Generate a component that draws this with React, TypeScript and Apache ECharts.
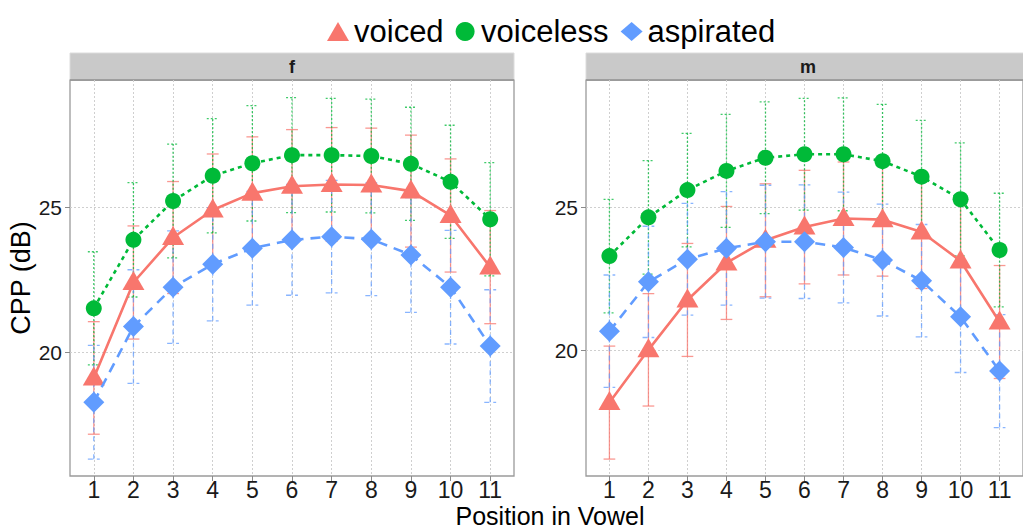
import React, { useEffect, useRef } from "react";
import * as echarts from "echarts";

// ---------- data ----------
const positions = [1, 2, 3, 4, 5, 6, 7, 8, 9, 10, 11];
const yTicks = [20, 25];
const panels = ["f", "m"];
const groups = ["voiced", "voiceless", "aspirated"];

// panel f
const fVoiced = [19.13, 22.42, 23.97, 24.92, 25.5, 25.74, 25.8, 25.78, 25.57, 24.73, 22.95];
const fVoicedSd = [1.94, 1.95, 1.93, 1.93, 1.94, 1.95, 1.96, 1.96, 1.93, 1.95, 1.95];
const fVoiceless = [21.53, 23.89, 25.23, 26.1, 26.53, 26.81, 26.81, 26.78, 26.51, 25.89, 24.6];
const fVoicelessSd = [1.95, 1.97, 1.96, 1.97, 1.99, 1.98, 1.96, 1.96, 1.95, 1.95, 1.95];
const fAspirated = [18.29, 20.9, 22.26, 23.05, 23.6, 23.89, 24.0, 23.91, 23.37, 22.26, 20.23];
const fAspiratedSd = [1.96, 1.96, 1.94, 1.95, 1.96, 1.91, 1.94, 1.94, 1.98, 1.96, 1.94];

// panel m
const mVoiced = [18.18, 20.02, 21.76, 23.05, 23.84, 24.3, 24.6, 24.56, 24.13, 23.12, 20.99];
const mVoicedSd = [1.97, 1.96, 1.97, 1.97, 1.97, 1.98, 1.97, 1.97, 1.97, 1.97, 1.97];
const mVoiceless = [23.29, 24.64, 25.59, 26.26, 26.72, 26.84, 26.84, 26.6, 26.06, 25.27, 23.5];
const mVoicelessSd = [1.98, 1.98, 1.98, 1.97, 1.95, 1.95, 1.97, 1.98, 1.96, 1.97, 1.98];
const mAspirated = [20.67, 22.39, 23.18, 23.56, 23.79, 23.79, 23.59, 23.15, 22.43, 21.17, 19.28];
const mAspiratedSd = [1.96, 1.94, 1.95, 1.98, 1.97, 1.98, 1.93, 1.95, 1.96, 1.94, 1.97];

const panelData = [
  { means: [fVoiced, fVoiceless, fAspirated], sds: [fVoicedSd, fVoicelessSd, fAspiratedSd] },
  { means: [mVoiced, mVoiceless, mAspirated], sds: [mVoicedSd, mVoicelessSd, mAspiratedSd] },
];

// ---------- styles ----------
const FONT = "Liberation Sans, Arial, Helvetica, sans-serif";
const colors = ["#F8766D", "#00BA38", "#619CFF"];
const symbols = ["triangle", "circle", "diamond"];
const symbolSizes: any[] = [[22, 19], 16, [21, 21]];
const symbolOffsets: any[] = [[0, -2], [0, 0], [0, 0]];
const lineDashes: any[] = ["solid", [4, 4], [10, 7]];
const errDashes: any[] = ["solid", [2, 2], [5, 4]];

const gridsPx = [
  { left: 70, top: 80, width: 444, height: 396 },
  { left: 586, top: 80, width: 444, height: 396 },
];
const yRanges = [
  [15.75, 29.4],
  [15.62, 29.43],
];

export default function App() {
  const ref = useRef<HTMLDivElement>(null);

  useEffect(() => {
    if (!ref.current) return;
    const chart = echarts.init(ref.current, null, { renderer: "svg" });

    const grids = gridsPx.map((g) => ({
      ...g,
      show: true,
      borderColor: "#9a9a9a",
      borderWidth: 1.3,
      backgroundColor: "#ffffff",
      containLabel: false,
    }));

    const xAxes = gridsPx.map((_, i) => ({
      type: "value",
      gridIndex: i,
      min: 0.4,
      max: 11.6,
      axisLine: { show: false },
      axisTick: {
        show: true,
        length: 5,
        customValues: positions,
        lineStyle: { color: "#8a8a8a", width: 1 },
      },
      axisLabel: {
        customValues: positions,
        fontSize: 23,
        lineHeight: 20,
        color: "#1a1a1a",
        fontFamily: FONT,
        margin: 4,
        formatter: (v: number) => String(v),
      },
      splitLine: {
        show: true,
        lineStyle: { color: "#cfcfcf", type: [2, 2], width: 1 },
      },
    }));

    const yAxes = gridsPx.map((_, i) => ({
      type: "value",
      gridIndex: i,
      min: yRanges[i][0],
      max: yRanges[i][1],
      name: i === 0 ? "CPP (dB)" : "",
      nameLocation: "middle",
      nameGap: 33,
      nameTextStyle: { fontSize: 27, color: "#000", fontFamily: FONT },
      axisLine: { show: false },
      axisTick: {
        show: true,
        length: 5,
        customValues: yTicks,
        lineStyle: { color: "#8a8a8a", width: 1 },
      },
      axisLabel: {
        customValues: yTicks,
        fontSize: 21,
        color: "#1a1a1a",
        fontFamily: FONT,
        margin: 8,
      },
      splitLine: {
        show: true,
        lineStyle: { color: "#cfcfcf", type: [2, 2], width: 1 },
      },
    }));

    const series: any[] = [];
    panelData.forEach((pd, p) => {
      groups.forEach((g, k) => {
        const data = positions.map((x, j) => [x, pd.means[k][j] - pd.sds[k][j], pd.means[k][j] + pd.sds[k][j]]);
        series.push({
          type: "custom",
          name: g + "-err-" + p,
          xAxisIndex: p,
          yAxisIndex: p,
          z: 2,
          silent: true,
          encode: { x: 0, y: [1, 2] },
          data,
          renderItem: (params: any, api: any) => {
            const x = api.value(0);
            const lo = api.coord([x, api.value(1)]);
            const hi = api.coord([x, api.value(2)]);
            const hw = api.size([0.3, 0])[0] / 2;
            const style = {
              stroke: colors[k],
              lineWidth: 1.3,
              lineDash: errDashes[k] === "solid" ? null : errDashes[k],
              opacity: 0.75,
              fill: null,
            };
            return {
              type: "group",
              children: [
                { type: "line", shape: { x1: lo[0], y1: lo[1], x2: hi[0], y2: hi[1] }, style },
                { type: "line", shape: { x1: lo[0] - hw, y1: lo[1], x2: lo[0] + hw, y2: lo[1] }, style },
                { type: "line", shape: { x1: hi[0] - hw, y1: hi[1], x2: hi[0] + hw, y2: hi[1] }, style },
              ],
            };
          },
        });
      });
    });
    panelData.forEach((pd, p) => {
      groups.forEach((g, k) => {
        series.push({
          type: "line",
          name: g,
          xAxisIndex: p,
          yAxisIndex: p,
          z: 3 + k,
          data: positions.map((x, j) => [x, pd.means[k][j]]),
          symbol: symbols[k],
          symbolSize: symbolSizes[k],
          symbolOffset: symbolOffsets[k],
          showSymbol: true,
          lineStyle: { color: colors[k], width: 2.6, type: lineDashes[k] },
          itemStyle: { color: colors[k], borderWidth: 0 },
          emphasis: { disabled: true },
        });
      });
    });

    const graphic: any[] = [];
    gridsPx.forEach((g) => {
      graphic.push({
        type: "rect",
        silent: true,
        z: 0,
        shape: { x: g.left, y: 53, width: g.width, height: 27 },
        style: { fill: "#C9C9C9", stroke: "#dcdcdc", lineWidth: 1 },
      });
      graphic.push({
        type: "line",
        silent: true,
        z: 0,
        shape: { x1: g.left, y1: 80, x2: g.left + g.width, y2: 80 },
        style: { stroke: "#8c8c8c", lineWidth: 1.3 },
      });
    });

    const titles: any[] = gridsPx.map((g, i) => ({
      text: panels[i],
      left: g.left + g.width / 2,
      top: 56,
      textAlign: "center",
      padding: 0,
      z: 10,
      textStyle: {
        fontSize: 18,
        fontWeight: "bold",
        fontFamily: FONT,
        color: "#1a1a1a",
        lineHeight: 22,
      },
    }));
    titles.push({
      text: "Position in Vowel",
      left: 550,
      top: 503,
      textAlign: "center",
      padding: 0,
      textStyle: {
        fontSize: 25,
        fontWeight: "normal",
        fontFamily: FONT,
        color: "#000",
        lineHeight: 25,
      },
    });

    chart.setOption({
      animation: false,
      backgroundColor: "#ffffff",
      textStyle: { fontFamily: FONT },
      title: titles,
      legend: {
        data: groups.map((g, k) => ({ name: g, icon: symbols[k] })),
        left: 322,
        top: 11,
        itemWidth: 22,
        itemHeight: 19,
        itemGap: 12,
        textStyle: { fontSize: 31, color: "#000", fontFamily: FONT },
        selectedMode: false,
      },
      grid: grids,
      xAxis: xAxes,
      yAxis: yAxes,
      series,
      graphic,
    });

    return () => chart.dispose();
  }, []);

  return (
    <div
      ref={ref}
      style={{ position: "fixed", left: 0, top: 0, width: 1023, height: 530, background: "#fff" }}
    />
  );
}
